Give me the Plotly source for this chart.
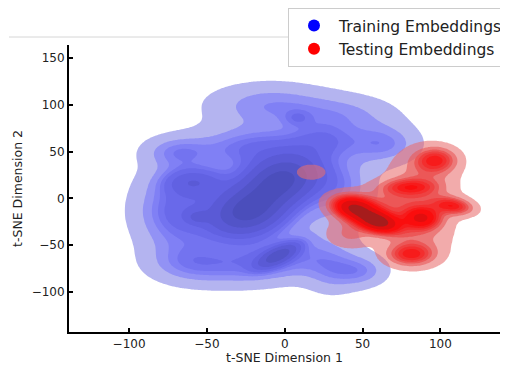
import numpy as np
import plotly.graph_objects as go

# ---- Density components ----
# Training embeddings: centre x, centre y, spread along/across axis, rotation (deg), relative mass
train_cx = [-24, -2, -15, -70, -58, -70, -10, 40, 64, -10, -4, 30, -60, 35, -56, 8, -20, 50, 25]
train_cy = [-14, 20, -5, -15, 18, 50, 100, 90, 58, -68, -61, -78, -70, 15, -20, 86, 55, -78, 62]
train_sx = [18, 18, 40, 18, 14, 15, 28, 24, 16, 28, 11, 12, 20, 14, 5, 6, 25, 12, 16]
train_sy = [14, 14, 40, 30, 10, 12, 17, 15, 15, 16, 5, 18, 15, 22, 5, 6, 15, 12, 14]
train_ang = [57, 57, 0, 0, 0, 0, 0, 0, 0, 15, 45, 0, 0, 0, 0, 0, 0, 0, 0]
train_w = [2.0, 2.0, 3.0, 1.3, 0.35, 0.3, 0.9, 0.5, 0.5, 1.0, 0.3, 0.3, 0.5, 0.5, 0.04, 0.03, 0.8, 0.25, 0.4]

# Testing embeddings
test_cx = [44, 60, 97, 80, 108, 88, 81, 17, 88, 85, 42, 65]
test_cy = [-10, -25, 41, 12, -8, -21, -60, 28, 20, -35, -38, -5]
test_sx = [10, 10, 9, 12, 9, 8, 10, 8, 15, 15, 10, 15]
test_sy = [8, 7, 9, 6, 6, 8, 8, 7, 22, 22, 10, 12]
test_ang = [-35, -35, 0, 0, -20, 0, 0, 0, 0, 0, 0, 0]
test_w = [1.2, 1.2, 0.55, 0.4, 0.4, 0.6, 0.55, 0.1, 1.0, 1.0, 0.3, 0.5]

legend_names = ["Training Embeddings", "Testing Embeddings"]
x_ticks = [-100, -50, 0, 50, 100]
y_ticks = [-100, -50, 0, 50, 100, 150]
iso_props = np.linspace(0.05, 1, 10)

# band colours, outer -> inner
blue_bands = ["rgba(180,180,240,1)", "rgba(146,146,245,1)", "rgba(128,128,245,1)",
              "rgba(115,115,240,1)", "rgba(105,105,234,1)", "rgba(97,97,226,1)",
              "rgba(90,90,214,1)", "rgba(82,84,200,1)", "rgba(75,78,188,1)"]
red_bands = ["rgba(232,110,110,0.58)", "rgba(232,90,90,0.62)", "rgba(236,70,70,0.66)",
             "rgba(240,55,55,0.7)", "rgba(244,40,40,0.75)", "rgba(248,22,22,0.8)",
             "rgba(250,10,10,0.85)", "rgba(220,15,15,0.87)", "rgba(160,30,30,0.9)"]

xg = np.arange(-160, 160.01, 1.2)
yg = np.arange(-160, 180.01, 1.2)
X, Y = np.meshgrid(xg, yg)


def mixture(cx, cy, sx, sy, ang, w):
    Z = np.zeros_like(X)
    for x0, y0, s1, s2, a, m in zip(cx, cy, sx, sy, ang, w):
        t = np.deg2rad(a)
        dx, dy = X - x0, Y - y0
        u = dx * np.cos(t) + dy * np.sin(t)
        v = -dx * np.sin(t) + dy * np.cos(t)
        Z += m / (2 * np.pi * s1 * s2) * np.exp(-0.5 * ((u / s1) ** 2 + (v / s2) ** 2))
    return Z


def level_index(Z):
    vals = np.sort(Z.ravel())[::-1]
    cum = np.cumsum(vals) / vals.sum()
    idx = np.searchsorted(cum, 1 - iso_props)
    lev = np.take(vals, idx, mode="clip")
    lev = np.maximum.accumulate(lev + np.arange(len(lev)) * 1e-15)
    return np.interp(Z, np.concatenate([[0], lev]), np.arange(0, len(lev) + 1))


def scale(bands):
    cols = ["rgba(255,255,255,0)"] + bands + [bands[-1]]
    n = len(cols) - 1
    return [[i / n, c] for i, c in enumerate(cols)]


fig = go.Figure()
for Z, bands in [(mixture(train_cx, train_cy, train_sx, train_sy, train_ang, train_w), blue_bands),
                 (mixture(test_cx, test_cy, test_sx, test_sy, test_ang, test_w), red_bands)]:
    fig.add_trace(go.Contour(
        x=xg, y=yg, z=level_index(Z),
        contours=dict(start=1, end=10, size=1, coloring="fill", showlines=False),
        line=dict(width=0), colorscale=scale(bands), showscale=False,
        hoverinfo="skip", showlegend=False))

for name, col in zip(legend_names, ["blue", "red"]):
    fig.add_trace(go.Scatter(x=[None], y=[None], mode="markers", name=name,
                             marker=dict(color=col, size=12)))

# page has an 8px body margin: work in screen pixels, convert to figure pixels
OFF = 8
W, H = 508 - OFF, 365 - OFF
L, T = 69 - OFF, 45 - OFF
pw, ph = 431, 287
R, B = W - L - pw, H - T - ph


def px(xs):
    return (xs - OFF - L) / pw


def py(ys):
    return (T + ph - (ys - OFF)) / ph


fig.add_shape(type="line", xref="paper", yref="paper", x0=px(9), x1=px(520), y0=py(37), y1=py(37),
              line=dict(color="#d6d6d6", width=1), layer="below")

axis_common = dict(showgrid=False, zeroline=False, showline=True, linecolor="black", linewidth=2,
                   ticks="inside", ticklen=4, tickwidth=1.5, tickcolor="black",
                   tickfont=dict(family="DejaVu Sans", size=12, color="#222"),
                   mirror=False)
fig.update_xaxes(range=[-138.6, 138.3], tickvals=x_ticks,
                 title=dict(text="t-SNE Dimension 1", font=dict(family="DejaVu Sans", size=12.5, color="#222"), standoff=4),
                 **axis_common)
fig.update_yaxes(range=[-143, 164], tickvals=y_ticks,
                 title=dict(text="t-SNE Dimension 2", font=dict(family="DejaVu Sans", size=12.5, color="#222"), standoff=6),
                 **axis_common)

fig.update_layout(
    width=W, height=H,
    margin=dict(l=L, r=R, t=T, b=B, autoexpand=False),
    plot_bgcolor="white", paper_bgcolor="white",
    font=dict(family="DejaVu Sans", color="#222"),
    legend=dict(x=px(288), y=py(8), xanchor="left", yanchor="top", itemwidth=40,
                bgcolor="white", bordercolor="#cccccc", borderwidth=1,
                font=dict(family="DejaVu Sans", size=15.5, color="#222")),
)

fig.write_html("out.html")
